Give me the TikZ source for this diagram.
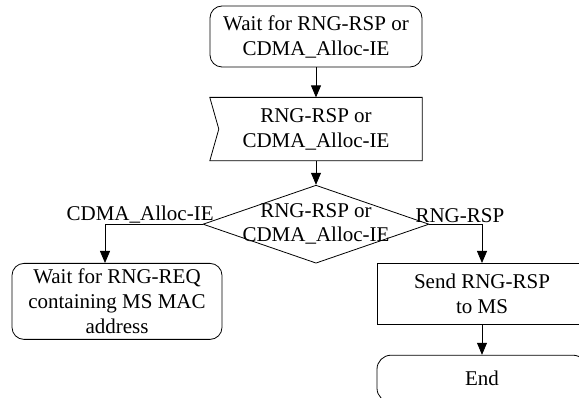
\documentclass[tikz,border=0pt]{standalone}
\usepackage{fontspec}
\setmainfont{Liberation Serif}
\usepackage{tikz}
\usetikzlibrary{arrows.meta,shapes,positioning}
\tikzstyle{arrow} = [line width=0.8pt,-{Triangle[length=12pt,width=10pt]}]
\tikzstyle{waitbox} = [rectangle, rounded corners=12pt, minimum width=212pt, minimum height=61pt, text centered, align=center, draw, line width=0.8pt, inner sep=2pt]
\tikzstyle{actbox} = [rectangle, minimum width=210pt, minimum height=61pt, text centered, align=center, draw, line width=0.8pt, inner sep=2pt]
\tikzstyle{inbox} = [rectangle, minimum width=212pt, minimum height=63pt, text centered, align=center, inner sep=2pt]
\tikzstyle{decbox} = [diamond, minimum width=226pt, minimum height=78pt, inner sep=0pt, draw, line width=0.8pt]
\tikzstyle{branch} = [above, inner sep=1pt]

\begin{document}
\begin{tikzpicture}[x=1pt, y=-1pt, font=\fontsize{21}{25}\selectfont]
\useasboundingbox (0,0) rectangle (579,398);
\clip (0,0) rectangle (579,398);

\node[waitbox] (wait) at (316,36.5) {Wait for RNG-RSP or\\CDMA\_Alloc-IE};
\node[inbox, below=30pt of wait] (sig) {RNG-RSP or\\CDMA\_Alloc-IE};
\draw[line width=0.8pt] (sig.north west) -- (sig.north east) -- (sig.south east) -- (sig.south west) -- ([xshift=9pt]sig.west) -- cycle;
\node[decbox, below=24pt of sig,
  label={[align=center, font=\fontsize{21}{24}\selectfont]center:RNG-RSP or\\CDMA\_Alloc-IE}] (dec) {};

% branches
\node[waitbox, minimum width=210pt, minimum height=76pt, anchor=north] (req) at (117,263) {Wait for RNG-REQ\\containing MS MAC\\address};
\node[actbox, anchor=north] (send) at (482,263) {Send RNG-RSP\\to MS};
\node[waitbox, minimum width=210pt, minimum height=47pt, rounded corners=14pt, below=30pt of send] (end) {End};

\draw[arrow] (wait) -- (sig);
\draw[arrow] (sig) -- (dec);
\draw[arrow] (dec.west) -| node[branch, pos=0.32] {CDMA\_Alloc-IE} ([xshift=-12pt]req.north);
\draw[arrow] (dec.east) -| node[branch, pos=0.29] {RNG-RSP} (send.north);
\draw[arrow] (send) -- (end);
\end{tikzpicture}
\end{document}
